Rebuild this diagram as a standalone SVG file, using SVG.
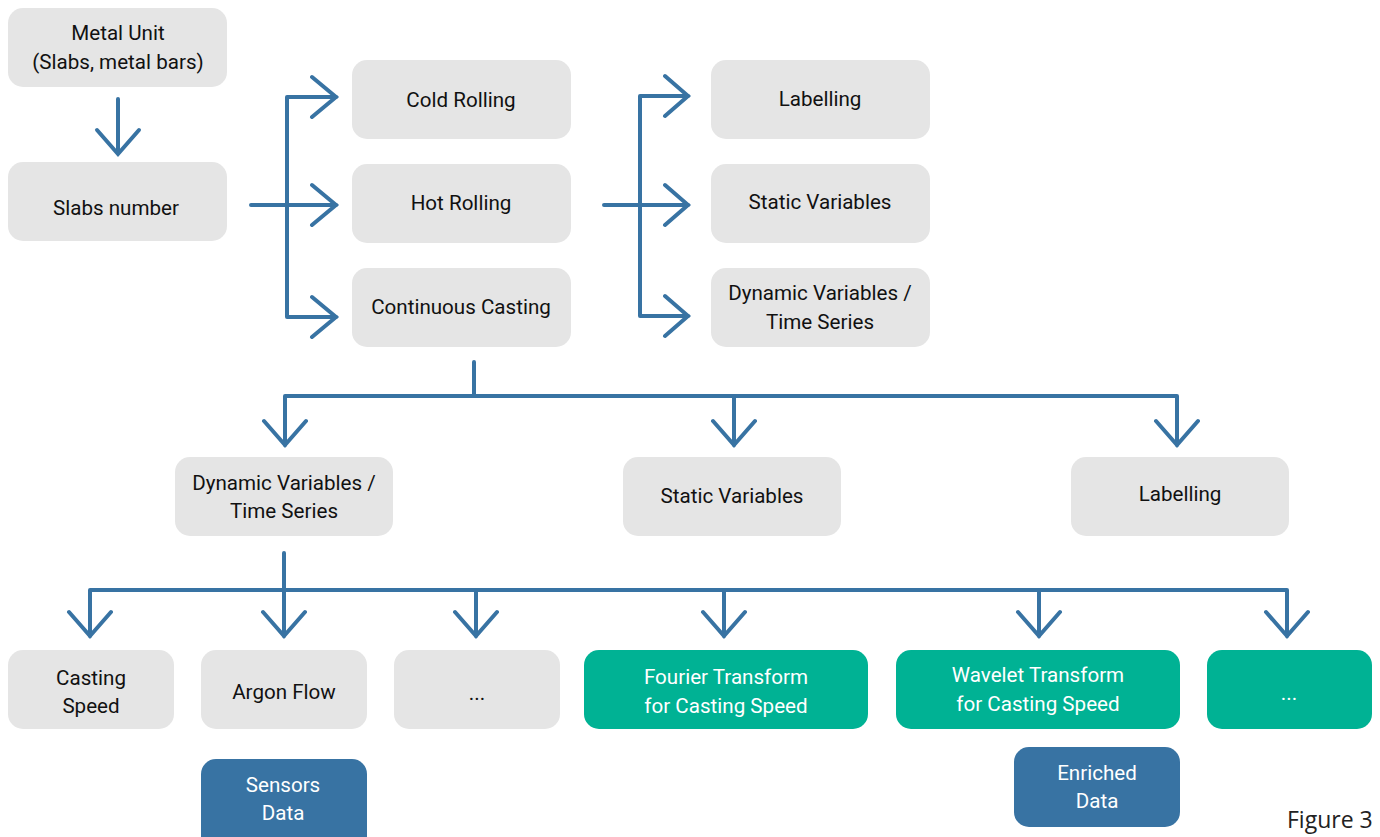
<svg xmlns="http://www.w3.org/2000/svg" width="1380" height="837" viewBox="0 0 1380 837">
  <style>
    .box { fill: #e5e5e5; }
    .teal { fill: #00b294; }
    .blue { fill: #3873a3; }
    text { font-family: Roboto, "Liberation Sans", sans-serif; font-size: 20.6px; text-anchor: middle; fill: #111; }
    .light { fill: #ffffff; }
    .wire { fill: none; stroke: #3873a3; stroke-width: 4; stroke-linecap: round; stroke-linejoin: miter; }
    .caption { font-family: "Open Sans", "Liberation Sans", sans-serif; font-size: 23px; text-anchor: start; fill: #222; }
  </style>
  <rect width="1380" height="837" fill="#ffffff"/>

  <!-- connectors -->
  <g id="connectors" class="wire">
    <!-- metal unit to slabs number -->
    <path d="M118 99 V154 M97 130 L118 154 L139 130"/>
    <!-- slabs number fan-out to the three processes -->
    <path d="M251 205 H336 M287 97 V317 M287 97 H336 M287 317 H336"/>
    <path d="M312 77 L336 97 L312 117 M312 185 L336 205 L312 225 M312 297 L336 317 L312 337"/>
    <!-- processes fan-out to data kinds -->
    <path d="M604 205 H688 M640 96 V316 M640 96 H688 M640 316 H688"/>
    <path d="M665 76 L688 96 L665 116 M665 185 L688 205 L665 225 M665 296 L688 316 L665 336"/>
    <!-- continuous casting down to its data kinds -->
    <path d="M474 362 V394 M285 396 H1177 M285 396 V445 M734 396 V445 M1177 396 V445"/>
    <path d="M264 421 L285 445 L306 421 M713 421 L734 445 L755 421 M1156 421 L1177 445 L1198 421"/>
    <!-- dynamic variables down to series and transforms -->
    <path d="M284 553 V588 M90 590 H1287 M90 590 V636 M284 588 V636 M476 590 V636 M724 590 V636 M1039 590 V636 M1287 590 V636"/>
    <path d="M69 612 L90 636 L111 612 M263 612 L284 636 L305 612 M455 612 L476 636 L497 612 M703 612 L724 636 L745 612 M1018 612 L1039 636 L1060 612 M1266 612 L1287 636 L1308 612"/>
  </g>

  <g id="metal-unit">
    <rect class="box" x="8" y="8" width="219" height="79" rx="15"/>
    <text x="118" y="40">Metal Unit</text>
    <text x="118" y="69">(Slabs, metal bars)</text>
  </g>
  <g id="slabs-number">
    <rect class="box" x="8" y="162" width="219" height="79" rx="15"/>
    <text x="116" y="215">Slabs number</text>
  </g>

  <g id="cold-rolling">
    <rect class="box" x="352" y="60" width="219" height="79" rx="15"/>
    <text x="461" y="107">Cold Rolling</text>
  </g>
  <g id="hot-rolling">
    <rect class="box" x="352" y="164" width="219" height="79" rx="15"/>
    <text x="461" y="210">Hot Rolling</text>
  </g>
  <g id="continuous-casting">
    <rect class="box" x="352" y="268" width="219" height="79" rx="15"/>
    <text x="461" y="314">Continuous Casting</text>
  </g>

  <g id="labelling-top">
    <rect class="box" x="711" y="60" width="219" height="79" rx="15"/>
    <text x="820" y="106">Labelling</text>
  </g>
  <g id="static-top">
    <rect class="box" x="711" y="164" width="219" height="79" rx="15"/>
    <text x="820" y="209">Static Variables</text>
  </g>
  <g id="dynamic-top">
    <rect class="box" x="711" y="268" width="219" height="79" rx="15"/>
    <text x="820" y="300">Dynamic Variables /</text>
    <text x="820" y="329">Time Series</text>
  </g>

  <g id="dynamic-casting">
    <rect class="box" x="175" y="457" width="218" height="79" rx="15"/>
    <text x="284" y="490">Dynamic Variables /</text>
    <text x="284" y="518">Time Series</text>
  </g>
  <g id="static-casting">
    <rect class="box" x="623" y="457" width="218" height="79" rx="15"/>
    <text x="732" y="503">Static Variables</text>
  </g>
  <g id="labelling-casting">
    <rect class="box" x="1071" y="457" width="218" height="79" rx="15"/>
    <text x="1180" y="501">Labelling</text>
  </g>

  <g id="casting-speed">
    <rect class="box" x="8" y="650" width="166" height="79" rx="15"/>
    <text x="91" y="685">Casting</text>
    <text x="91" y="713">Speed</text>
  </g>
  <g id="argon-flow">
    <rect class="box" x="201" y="650" width="166" height="79" rx="15"/>
    <text x="284" y="699">Argon Flow</text>
  </g>
  <g id="more-series">
    <rect class="box" x="394" y="650" width="166" height="79" rx="15"/>
    <text x="477" y="700">...</text>
  </g>
  <g id="fourier">
    <rect class="teal" x="584" y="650" width="284" height="79" rx="15"/>
    <text class="light" x="726" y="684">Fourier Transform</text>
    <text class="light" x="726" y="713">for Casting Speed</text>
  </g>
  <g id="wavelet">
    <rect class="teal" x="896" y="650" width="284" height="79" rx="15"/>
    <text class="light" x="1038" y="682">Wavelet Transform</text>
    <text class="light" x="1038" y="711">for Casting Speed</text>
  </g>
  <g id="more-transforms">
    <rect class="teal" x="1207" y="650" width="165" height="79" rx="15"/>
    <text class="light" x="1289" y="700">...</text>
  </g>

  <g id="sensors-data">
    <rect class="blue" x="201" y="759" width="166" height="95" rx="15"/>
    <text class="light" x="283" y="792">Sensors</text>
    <text class="light" x="283" y="820">Data</text>
  </g>
  <g id="enriched-data">
    <rect class="blue" x="1014" y="747" width="166" height="80" rx="15"/>
    <text class="light" x="1097" y="780">Enriched</text>
    <text class="light" x="1097" y="808">Data</text>
  </g>

  <text class="caption" x="1287" y="828">Figure 3</text>
</svg>
